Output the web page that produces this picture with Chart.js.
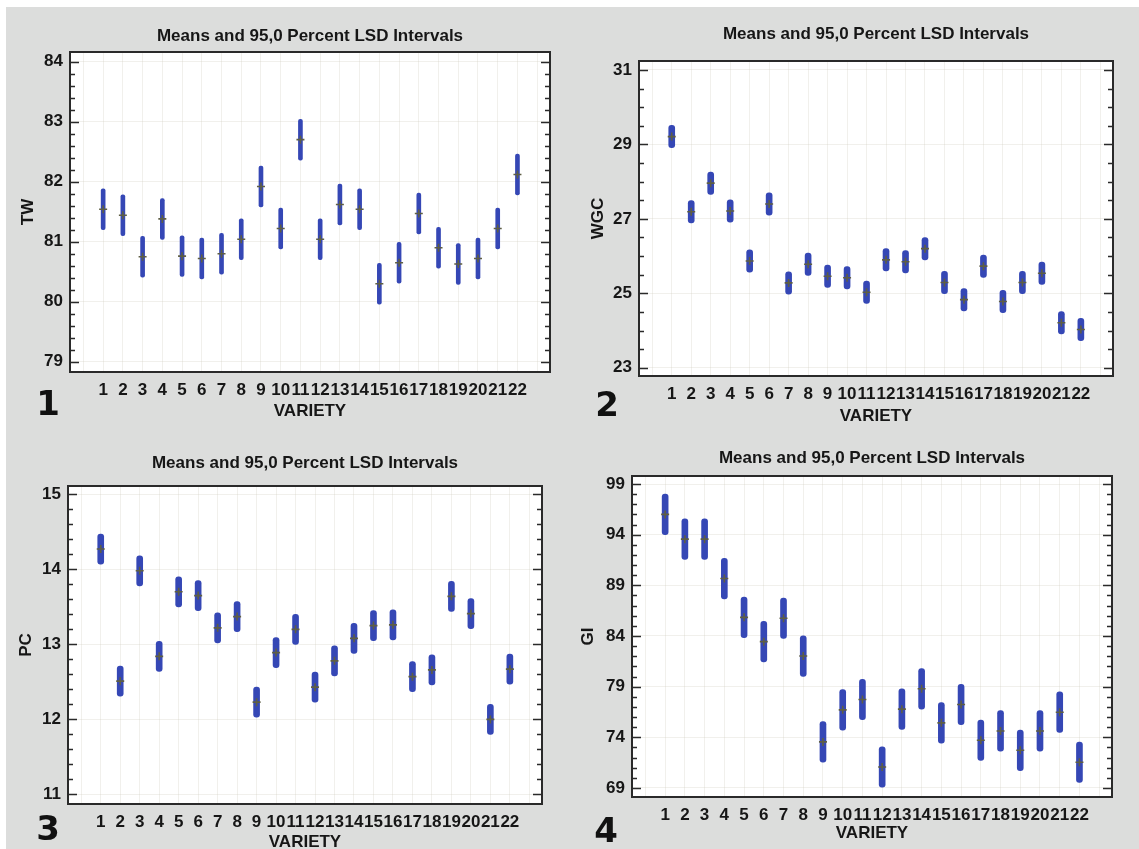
<!DOCTYPE html>
<html>
<head>
<meta charset="utf-8">
<script src="https://cdn.jsdelivr.net/npm/chart.js@4.4.1/dist/chart.umd.min.js"></script>
<style>
  html, body { margin: 0; padding: 0; background: #ffffff; width: 1139px; height: 849px; overflow: hidden; }
  #sheet { position: absolute; left: 6px; top: 7px; right: 0; bottom: 0; background: #dcdddc; }
  canvas { position: absolute; }
  .num { position: absolute; font-family: "DejaVu Sans", sans-serif; font-weight: bold; font-size: 34px;
         line-height: 1; color: #111; transform: translate(-50%, -50%); }
</style>
</head>
<body>
<div id="sheet"></div>
<canvas id="c1" width="542" height="422" style="left:14px;top:2px"></canvas>
<canvas id="c2" width="536" height="417" style="left:583px;top:11px"></canvas>
<canvas id="c3" width="536" height="420" style="left:12px;top:436px"></canvas>
<canvas id="c4" width="542" height="423" style="left:576px;top:426px"></canvas>
<div class="num" style="left:48px;top:403px">1</div>
<div class="num" style="left:607px;top:404px">2</div>
<div class="num" style="left:48px;top:828px">3</div>
<div class="num" style="left:606px;top:830px">4</div>

<script>
// Varieties on the x axis
const varieties = [1, 2, 3, 4, 5, 6, 7, 8, 9, 10, 11, 12, 13, 14, 15, 16, 17, 18, 19, 20, 21, 22];

// Group means per variety
const twMeans  = [81.54, 81.44, 80.75, 81.38, 80.76, 80.72, 80.80, 81.04, 81.92, 81.22, 82.70,
                  81.04, 81.62, 81.54, 80.30, 80.65, 81.47, 80.90, 80.63, 80.72, 81.22, 82.12];
const wgcMeans = [29.21, 27.19, 27.96, 27.21, 25.87, 27.40, 25.28, 25.78, 25.46, 25.42, 25.03,
                  25.90, 25.85, 26.20, 25.29, 24.83, 25.73, 24.78, 25.29, 25.54, 24.21, 24.03];
const pcMeans  = [14.27, 12.51, 13.98, 12.84, 13.70, 13.65, 13.22, 13.37, 12.23, 12.89, 13.20,
                  12.43, 12.78, 13.08, 13.25, 13.26, 12.57, 12.66, 13.64, 13.41, 12.00, 12.67];
const giMeans  = [96.00, 93.56, 93.56, 89.67, 85.84, 83.44, 85.75, 82.02, 73.55, 76.71, 77.73,
                  71.07, 76.78, 78.79, 75.43, 77.24, 73.71, 74.63, 72.72, 74.63, 76.48, 71.54];

// Half-width of the 95% LSD interval for each trait
const twLsd = 0.34;
const wgcLsd = 0.30;
const pcLsd = 0.20;
const giLsd = 2.0;

// Labelled y-axis ticks
const twTicks  = [79, 80, 81, 82, 83, 84];
const wgcTicks = [23, 25, 27, 29, 31];
const pcTicks  = [11, 12, 13, 14, 15];
const giTicks  = [69, 74, 79, 84, 89, 94, 99];

const TITLE = 'Means and 95,0 Percent LSD Intervals';
const FONT = '"Liberation Sans", Arial, sans-serif';
const INK = '#161616';
const BAR = '#3547b5';
const GRID = 'rgba(205,200,185,0.28)';

// White plot area, inward minor/major ticks on both sides, dark frame
const framePlugin = {
  id: 'frame',
  beforeDraw(chart) {
    const { ctx, chartArea: a } = chart;
    ctx.save();
    ctx.fillStyle = '#ffffff';
    ctx.fillRect(a.left, a.top, a.right - a.left, a.bottom - a.top);
    ctx.restore();
  },
  afterDraw(chart, args, opts) {
    const { ctx, chartArea: a } = chart;
    const y = chart.scales.y;
    ctx.save();
    ctx.strokeStyle = '#2a2a2a';
    ctx.lineWidth = 1.5;
    const step = opts.minor;
    const first = Math.ceil(y.min / step - 1e-9);
    const last = Math.floor(y.max / step + 1e-9);
    for (let k = first; k <= last; k++) {
      const v = k * step;
      const major = opts.major.some(m => Math.abs(m - v) < 1e-6);
      const len = major ? 9 : 5;
      const py = Math.round(y.getPixelForValue(v)) + 0.5;
      ctx.beginPath();
      ctx.moveTo(a.left, py); ctx.lineTo(a.left + len, py);
      ctx.moveTo(a.right, py); ctx.lineTo(a.right - len, py);
      ctx.stroke();
    }
    ctx.lineWidth = 2;
    ctx.strokeRect(a.left, a.top, a.right - a.left, a.bottom - a.top);
    ctx.restore();
  }
};

function makePanel(id, p) {
  const gridX = Array.from({ length: 24 }, (_, i) => i);
  new Chart(document.getElementById(id), {
    type: 'bar',
    data: {
      datasets: [
        {
          type: 'bar',
          data: p.means.map((m, i) => ({ x: varieties[i], y: [m - p.lsd, m + p.lsd] })),
          backgroundColor: BAR,
          barThickness: p.barW,
          borderRadius: p.barW / 2,
          borderSkipped: false,
          order: 2
        },
        {
          type: 'scatter',
          data: p.means.map((m, i) => ({ x: varieties[i], y: m })),
          pointStyle: 'cross',
          radius: 4,
          borderWidth: 1.6,
          borderColor: '#5e5e44',
          order: 1
        }
      ]
    },
    options: {
      responsive: false,
      animation: false,
      events: [],
      layout: { padding: { left: 0, top: 0, right: 6, bottom: 0 } },
      plugins: {
        legend: { display: false },
        tooltip: { enabled: false },
        title: {
          display: true,
          text: TITLE,
          fullSize: false,
          color: INK,
          font: { family: FONT, size: 17, weight: 'bold' },
          padding: { top: p.titleTop, bottom: p.titleBottom }
        },
        frame: { minor: p.minor, major: p.ticks }
      },
      scales: {
        x: {
          type: 'linear',
          min: -0.68,
          max: 23.65,
          offset: false,
          afterBuildTicks: s => { s.ticks = gridX.map(v => ({ value: v })); },
          afterFit: s => { s.height = 52; s.paddingLeft = 0; s.paddingRight = 0; },
          grid: { color: GRID, lineWidth: 1, drawTicks: false, offset: false },
          border: { display: false },
          ticks: {
            autoSkip: false, maxRotation: 0, minRotation: 0, padding: 8, color: INK,
            font: { family: FONT, size: 17, weight: 'bold' },
            callback: v => (varieties.includes(v) ? String(v) : '')
          },
          title: {
            display: true, text: 'VARIETY', color: INK,
            font: { family: FONT, size: 17, weight: 'bold' },
            padding: { top: 0, bottom: p.xTitlePad }
          }
        },
        y: {
          type: 'linear',
          min: p.min,
          max: p.max,
          beginAtZero: false,
          afterBuildTicks: s => { s.ticks = p.ticks.map(v => ({ value: v })); },
          afterFit: s => { s.width = 56; s.paddingTop = 0; s.paddingBottom = 0; },
          grid: { color: GRID, lineWidth: 1, drawTicks: false },
          border: { display: false },
          ticks: {
            padding: 7, color: INK,
            font: { family: FONT, size: 17, weight: 'bold' },
            callback: v => String(v)
          },
          title: {
            display: true, text: p.label, color: INK,
            font: { family: FONT, size: 17, weight: 'bold' },
            padding: { top: p.yTitlePad, bottom: 0 }
          }
        }
      }
    },
    plugins: [framePlugin]
  });
}

makePanel('c1', { label: 'TW', means: twMeans, lsd: twLsd, ticks: twTicks, min: 78.83, max: 84.16, minor: 0.2,
                  barW: 4, titleTop: 23.8, titleBottom: 5.8, yTitlePad: 3.8, xTitlePad: 2.8 });
makePanel('c2', { label: 'WGC', means: wgcMeans, lsd: wgcLsd, ticks: wgcTicks, min: 22.78, max: 31.24, minor: 0.5,
                  barW: 6, titleTop: 13.3, titleBottom: 16.3, yTitlePad: 4.8, xTitlePad: 1.3 });
makePanel('c3', { label: 'PC', means: pcMeans, lsd: pcLsd, ticks: pcTicks, min: 10.873, max: 15.11, minor: 0.2,
                  barW: 6, titleTop: 17.1, titleBottom: 12.5, yTitlePad: 3.8, xTitlePad: 3.0 });
makePanel('c4', { label: 'GI', means: giMeans, lsd: giLsd, ticks: giTicks, min: 68.11, max: 99.79, minor: 1,
                  barW: 6, titleTop: 22.3, titleBottom: 7.3, yTitlePad: 1.8, xTitlePad: 5.3 });
</script>
</body>
</html>
